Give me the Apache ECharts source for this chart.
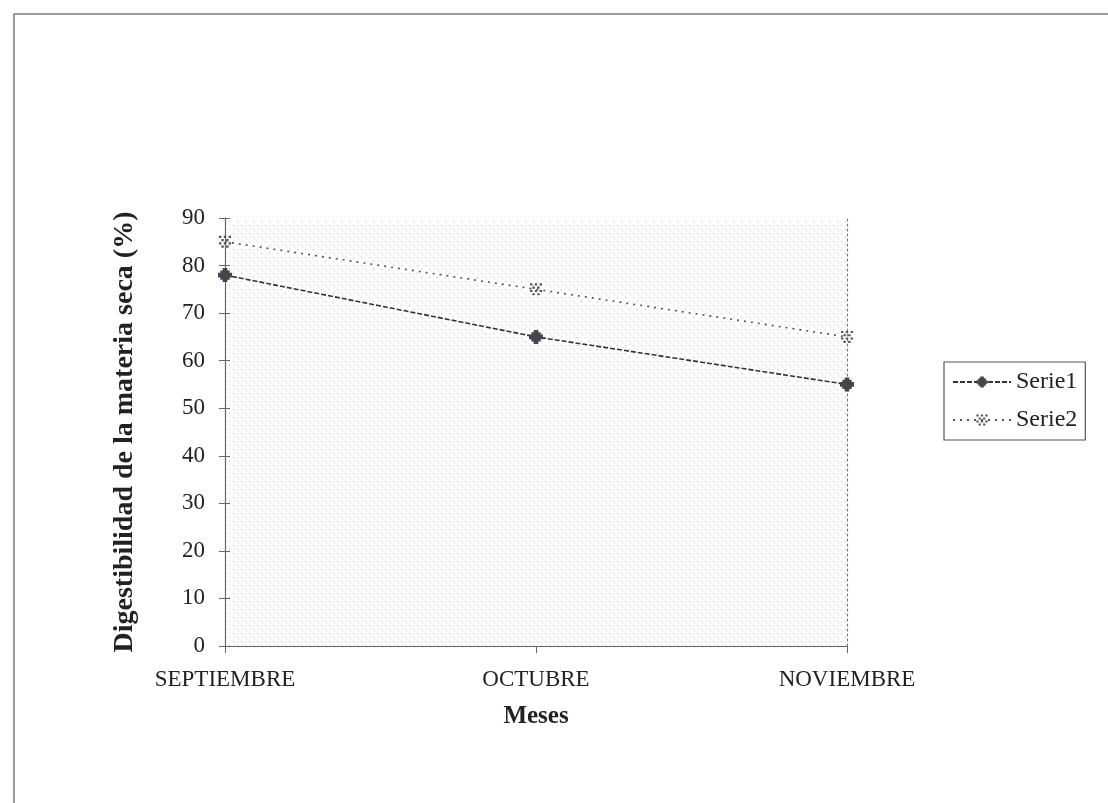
<!DOCTYPE html>
<html>
<head>
<meta charset="utf-8">
<script src="https://cdn.jsdelivr.net/npm/echarts@6/dist/echarts.min.js"></script>
<style>html,body{margin:0;padding:0;background:#fff;}#main{width:1108px;height:803px;}</style>
</head>
<body>
<div id="main"></div>
<script>
const categories = ['SEPTIEMBRE', 'OCTUBRE', 'NOVIEMBRE'];
const serie1 = [78, 65, 55];
const serie2 = [85, 75, 65];
const seriesNames = ['Serie1', 'Serie2'];
const yTicks = [0, 10, 20, 30, 40, 50, 60, 70, 80, 90];

// stipple pattern for plot background
const pc = document.createElement('canvas');
pc.width = 8; pc.height = 8;
const pctx = pc.getContext('2d');
pctx.fillStyle = '#ffffff'; pctx.fillRect(0,0,8,8);
pctx.fillStyle = '#bdbdbd';
pctx.fillRect(1,1,1,1); pctx.fillRect(5,5,1,1);

const FONT = '"Liberation Serif", "Times New Roman", serif';
const sym1 = 'path://M4,0 L8,0 L8,4 L12,4 L12,8 L8,8 L8,12 L4,12 L4,8 L0,8 L0,4 L4,4 Z M2,2 L10,2 L10,10 L2,10 Z';
const sym2 = 'path://M0,0h2v2h-2z M4,0h2v2h-2z M8,0h2v2h-2z M2,3h2v2h-2z M6,3h2v2h-2z M0,6h2v2h-2z M4,6h2v2h-2z M8,6h2v2h-2z M2,9h2v2h-2z M6,9h2v2h-2z';

const chart = echarts.init(document.getElementById('main'), null, {renderer: 'canvas'});
chart.setOption({
  backgroundColor: '#ffffff',
  animation: false,
  graphic: [{
    type: 'rect', silent: true, z: -10,
    shape: {x: 14, y: 14, width: 1200, height: 900},
    style: {fill: 'none', stroke: '#7a7a7a', lineWidth: 1.5}
  }],
  grid: {
    left: 225, right: 261, top: 218, bottom: 157,
    show: true, borderWidth: 0,
    backgroundColor: {image: pc, repeat: 'repeat'}
  },
  legend: {
    orient: 'vertical', left: 944, top: 362,
    padding: [8, 8, 8, 8], itemGap: 14,
    itemWidth: 58, itemHeight: 14,
    borderColor: '#555', borderWidth: 1.2,
    textStyle: {fontFamily: FONT, fontSize: 24, color: '#222'},
    data: seriesNames
  },
  xAxis: {
    type: 'category', data: categories, boundaryGap: false,
    name: 'Meses', nameLocation: 'middle', nameGap: 58,
    nameTextStyle: {fontFamily: FONT, fontSize: 25, fontWeight: 'bold', color: '#222'},
    axisLine: {lineStyle: {color: '#666', width: 1.2}},
    axisTick: {show: true, length: 7, lineStyle: {color: '#666'}},
    axisLabel: {fontFamily: FONT, fontSize: 23, color: '#222', margin: 22},
    splitLine: {show: false}
  },
  yAxis: [{
    type: 'value', min: 0, max: 90, interval: 10,
    name: 'Digestibilidad de la materia seca (%)', nameLocation: 'middle', nameGap: 86, nameRotate: 90,
    nameTextStyle: {fontFamily: FONT, fontSize: 28, fontWeight: 'bold', color: '#222', padding: [0, 0, 0, 0]},
    axisLine: {show: true, lineStyle: {color: '#666', width: 1.2}},
    axisTick: {show: true, length: 6, lineStyle: {color: '#666'}},
    axisLabel: {fontFamily: FONT, fontSize: 23, color: '#222', margin: 20,
      formatter: v => yTicks.includes(v) ? String(v) : ''},
    splitLine: {show: false}
  }, {
    type: 'value', min: 0, max: 90, interval: 10, position: 'right',
    axisLine: {show: true, lineStyle: {color: '#777', type: [2, 3], width: 1.2}},
    axisTick: {show: false}, axisLabel: {show: false}, splitLine: {show: false}
  }, {
    type: 'value', min: 0, max: 90, interval: 10, position: 'left',
    axisLine: {show: false},
    axisTick: {show: true, inside: true, length: 5, lineStyle: {color: '#666'}},
    axisLabel: {show: false}, splitLine: {show: false}
  }],
  series: [{
    name: seriesNames[0], type: 'line', data: serie1,
    symbol: sym1, symbolSize: 14,
    itemStyle: {color: '#45454f'},
    lineStyle: {color: '#333', width: 1.6, type: [5, 2]}
  }, {
    name: seriesNames[1], type: 'line', data: serie2,
    symbol: sym2, symbolSize: 12,
    itemStyle: {color: '#555'},
    lineStyle: {color: '#555', width: 1.6, type: [2, 5]}
  }]
});
</script>
</body>
</html>
